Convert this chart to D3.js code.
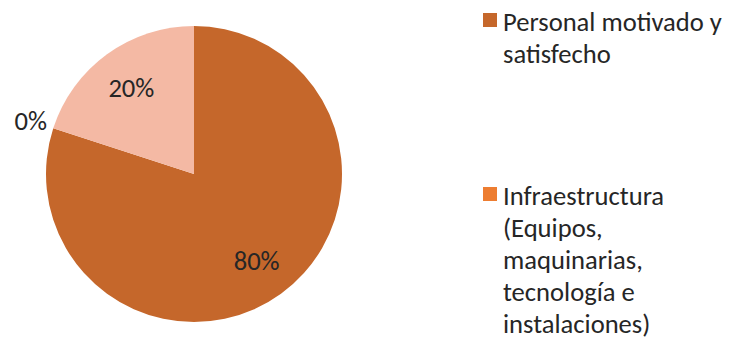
<!DOCTYPE html>
<html><head><meta charset="utf-8">
<script src="https://cdn.jsdelivr.net/npm/d3@7"></script>
<style>html,body{margin:0;padding:0;background:#fff;}</style>
</head><body>
<script>
const categories = ["Personal motivado y satisfecho", "Infraestructura (Equipos, maquinarias, tecnología e instalaciones)", ""];
const legendLines = [["Personal motivado y", "satisfecho"], ["Infraestructura", "(Equipos,", "maquinarias,", "tecnología e", "instalaciones)"]];
const values = [80, 0, 20];
const labels = ["80%", "0%", "20%"];
const colors = ["#C5672B", "#ED7D31", "#F4B9A4"];

const W = 730, H = 340;
const svg = d3.select("body").append("svg").attr("width", W).attr("height", H);
const font = "Carlito, Lato, sans-serif";
const textColor = "#262626";

const cx = 194, cy = 174, r = 148;
const pie = d3.pie().sort(null).value(d => d)(values);
const arc = d3.arc().innerRadius(0).outerRadius(r);
const g = svg.append("g").attr("transform", `translate(${cx},${cy})`);
g.selectAll("path").data(pie).join("path").attr("d", arc).attr("fill", (d, i) => colors[i]);

// measure to fit Calibri-like metrics
const probe = svg.append("text").attr("font-family", font).attr("font-size", 20).text("Personal motivado y");
const fs = 20 * 219 / probe.node().getComputedTextLength();
probe.remove();

const inner = d3.arc().innerRadius(r * 0.72).outerRadius(r * 0.72);
const outer = d3.arc().innerRadius(r * 1.16).outerRadius(r * 1.16);
g.selectAll("text.lbl").data(pie).join("text").attr("class", "lbl")
  .attr("transform", d => `translate(${(d.value === 0 ? outer : inner).centroid(d)})`)
  .attr("text-anchor", "middle").attr("dy", "0.35em")
  .attr("font-family", font).attr("font-size", fs).attr("fill", textColor)
  .text((d, i) => labels[i]);

const legendY = [31, 205];
legendLines.forEach((lines, i) => {
  svg.append("rect").attr("x", 483).attr("y", legendY[i] - 18).attr("width", 14).attr("height", 14).attr("fill", colors[i]);
  const t = svg.append("text").attr("x", 503).attr("y", legendY[i]).attr("font-family", font).attr("font-size", fs).attr("fill", textColor);
  lines.forEach((l, j) => t.append("tspan").attr("x", 503).attr("y", legendY[i] + j * 32).text(l));
});
</script>
</body></html>
